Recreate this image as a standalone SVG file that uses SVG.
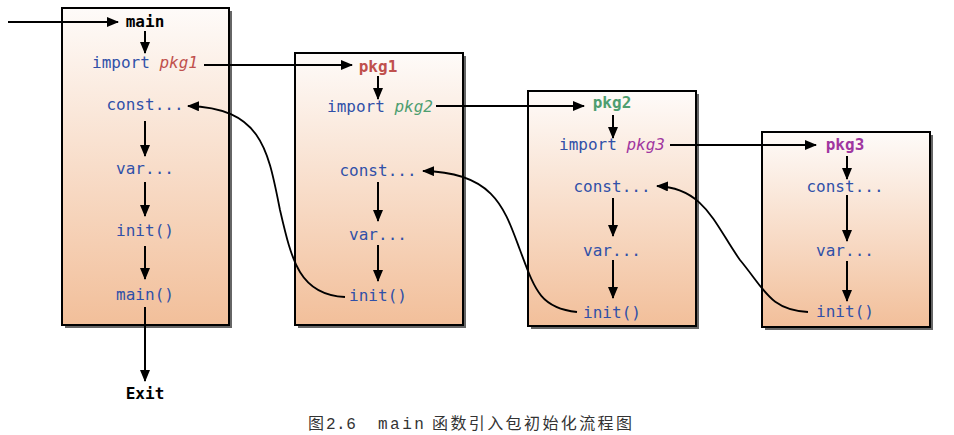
<svg xmlns="http://www.w3.org/2000/svg" width="954" height="435" viewBox="0 0 954 435">
<defs>
<linearGradient id="peach" x1="0" y1="0" x2="0" y2="1">
<stop offset="0" stop-color="#fefbf9"/>
<stop offset="1" stop-color="#f2bf9a"/>
</linearGradient>
<marker id="ah" viewBox="0 0 12 10" refX="11" refY="5" markerWidth="12" markerHeight="10" markerUnits="userSpaceOnUse" orient="auto">
<path d="M0,0 L12,5 L0,10 Z" fill="#000"/>
</marker>
</defs>
<style>
.box{fill:url(#peach);stroke:#000;stroke-width:2}
.sh{fill:#666}
.code{font-family:"DejaVu Sans Mono","Liberation Mono",monospace;font-size:16px;fill:#3050a8;text-anchor:middle}
.b{font-weight:bold}
.k{fill:#000}
.p1{fill:#c0504d}
.p2{fill:#4e9e70}
.p3{fill:#a036a0}
.it{font-style:italic}
.ln{fill:none;stroke:#000;stroke-width:2;marker-end:url(#ah)}
.cv{fill:none;stroke:#000;stroke-width:1.8;marker-end:url(#ah)}
.cap{font-family:"Noto Sans CJK SC",sans-serif;font-size:16px;fill:#333}
.capl{font-family:"Liberation Mono","Noto Sans CJK SC",monospace;font-size:16px;fill:#333}
</style>
<rect width="954" height="435" fill="#fff"/>
<g id="box-main">
<rect class="sh" x="65" y="11" width="167" height="317"/>
<rect class="box" x="62" y="8" width="167" height="317"/>
<text class="code b k" x="145" y="27">main</text>
<text class="code" x="145" y="68">import <tspan class="p1 it">pkg1</tspan></text>
<text class="code" x="145" y="110">const...</text>
<text class="code" x="145" y="174">var...</text>
<text class="code" x="145" y="236">init()</text>
<text class="code" x="145" y="300">main()</text>
</g>
<g id="exit">
<text class="code b k" x="145" y="399">Exit</text>
</g>
<g id="box-pkg1">
<rect class="sh" x="298" y="56" width="168" height="272"/>
<rect class="box" x="295" y="53" width="168" height="272"/>
<text class="code b p1" x="378" y="72">pkg1</text>
<text class="code" x="380" y="112">import <tspan class="p2 it">pkg2</tspan></text>
<text class="code" x="378" y="176">const...</text>
<text class="code" x="378" y="240">var...</text>
<text class="code" x="378" y="301">init()</text>
</g>
<g id="box-pkg2">
<rect class="sh" x="531" y="94" width="168" height="235"/>
<rect class="box" x="528" y="91" width="168" height="235"/>
<text class="code b p2" x="612" y="108">pkg2</text>
<text class="code" x="612" y="150">import <tspan class="p3 it">pkg3</tspan></text>
<text class="code" x="612" y="192">const...</text>
<text class="code" x="612" y="256">var...</text>
<text class="code" x="612" y="318">init()</text>
</g>
<g id="box-pkg3">
<rect class="sh" x="765" y="135" width="168" height="195"/>
<rect class="box" x="762" y="132" width="168" height="195"/>
<text class="code b p3" x="845" y="150">pkg3</text>
<text class="code" x="845" y="192">const...</text>
<text class="code" x="845" y="256">var...</text>
<text class="code" x="845" y="317">init()</text>
</g>
<g id="connectors">
<line class="ln" x1="8" y1="22" x2="118" y2="22"/>
<line class="ln" x1="145" y1="31" x2="145" y2="53"/>
<line class="ln" x1="145" y1="121" x2="145" y2="156"/>
<line class="ln" x1="145" y1="182" x2="145" y2="216"/>
<line class="ln" x1="145" y1="246" x2="145" y2="279"/>
<line class="ln" x1="145" y1="307" x2="145" y2="381"/>
<line class="ln" x1="204" y1="65" x2="352" y2="65"/>
<line class="ln" x1="378" y1="76" x2="378" y2="99"/>
<line class="ln" x1="378" y1="182" x2="378" y2="221"/>
<line class="ln" x1="378" y1="245" x2="378" y2="281"/>
<line class="ln" x1="436" y1="106" x2="584" y2="106"/>
<line class="ln" x1="613" y1="115" x2="613" y2="138"/>
<line class="ln" x1="613" y1="198" x2="613" y2="236"/>
<line class="ln" x1="613" y1="260" x2="613" y2="298"/>
<line class="ln" x1="670" y1="145" x2="816" y2="145"/>
<line class="ln" x1="847" y1="156" x2="847" y2="179"/>
<line class="ln" x1="847" y1="195" x2="847" y2="241"/>
<line class="ln" x1="847" y1="261" x2="847" y2="301"/>
<path class="cv" d="M345,297 C300,295 292,262 280,210 C268,150 262,108 188,106"/>
<path class="cv" d="M577,312 C540,308 535,290 520,250 C505,210 495,172 423,171"/>
<path class="cv" d="M808,312 C770,310 765,290 740,260 C715,225 705,188 657,186"/>
</g>
<g id="caption">
<text class="cap" x="308" y="429">图</text>
<text class="capl" x="326" y="429" letter-spacing="0.5">2.6</text>
<text class="capl" x="378" y="429" font-size="18" letter-spacing="2.5">main</text>
<text class="cap" x="432" y="429" letter-spacing="2.4">函数引入包初始化流程图</text>
</g>
</svg>
